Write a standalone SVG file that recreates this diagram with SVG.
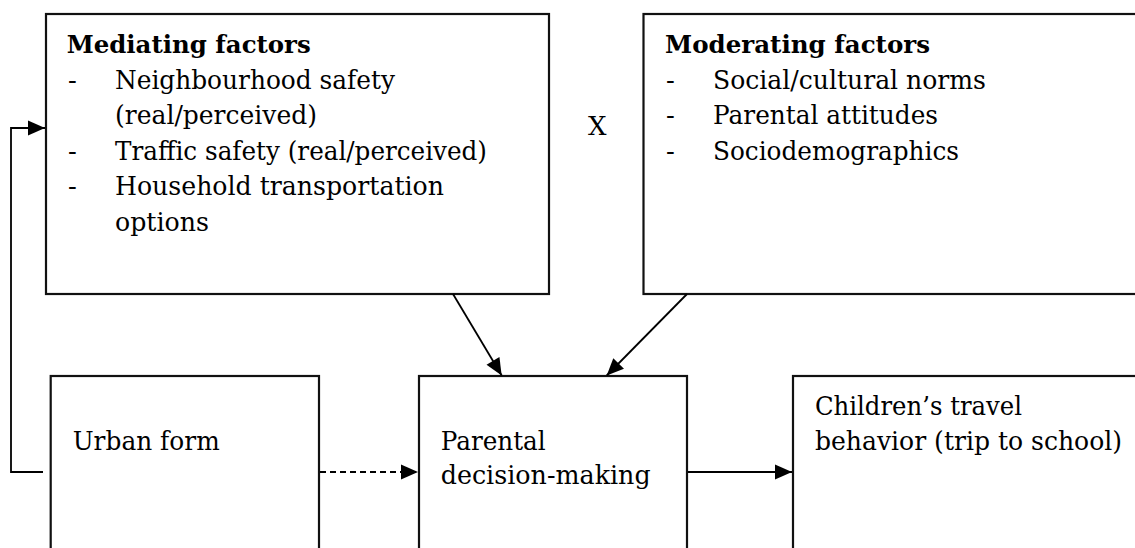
<svg xmlns="http://www.w3.org/2000/svg" width="1135" height="548" viewBox="0 0 1135 548">
<style>
.box{fill:#fff;stroke:#111;stroke-width:2.2}
.t{font-family:"DejaVu Serif","Liberation Serif",serif;font-size:26px;fill:#000}
.b{font-family:"DejaVu Serif","Liberation Serif",serif;font-size:24.5px;font-weight:bold;fill:#000}
.c{fill:none;stroke:#000;stroke-width:1.8}
.d{stroke-dasharray:6 4}
</style>
<defs>
<marker id="ah" markerUnits="userSpaceOnUse" markerWidth="20" markerHeight="18" refX="17" refY="7.5" orient="auto" overflow="visible">
<path d="M0,0 L17,7.5 L0,15 z" fill="#000"/>
</marker>
</defs>
<rect width="1135" height="548" fill="#fff"/>
<g id="mediating">
<rect class="box" x="46" y="14" width="503" height="280"/>
<text class="b" x="66.7" y="53" textLength="244" lengthAdjust="spacingAndGlyphs">Mediating factors</text>
<text class="t" x="68" y="88.5">-</text>
<text class="t" x="115" y="88.5" textLength="280" lengthAdjust="spacingAndGlyphs">Neighbourhood safety</text>
<text class="t" x="115" y="124" textLength="202" lengthAdjust="spacingAndGlyphs">(real/perceived)</text>
<text class="t" x="68" y="159.5">-</text>
<text class="t" x="115" y="159.5" textLength="372" lengthAdjust="spacingAndGlyphs">Traffic safety (real/perceived)</text>
<text class="t" x="68" y="195">-</text>
<text class="t" x="115" y="195" textLength="329" lengthAdjust="spacingAndGlyphs">Household transportation</text>
<text class="t" x="115" y="230.5" textLength="94" lengthAdjust="spacingAndGlyphs">options</text>
</g>
<g id="x-label">
<text class="t" x="588" y="135">X</text>
</g>
<g id="moderating">
<rect class="box" x="643.5" y="14" width="600" height="280"/>
<text class="b" x="665" y="53" textLength="265" lengthAdjust="spacingAndGlyphs">Moderating factors</text>
<text class="t" x="666" y="88.5">-</text>
<text class="t" x="713" y="88.5" textLength="273" lengthAdjust="spacingAndGlyphs">Social/cultural norms</text>
<text class="t" x="666" y="124">-</text>
<text class="t" x="713" y="124" textLength="225" lengthAdjust="spacingAndGlyphs">Parental attitudes</text>
<text class="t" x="666" y="159.5">-</text>
<text class="t" x="713" y="159.5" textLength="246" lengthAdjust="spacingAndGlyphs">Sociodemographics</text>
</g>
<g id="urban">
<rect class="box" x="50.7" y="376" width="268.3" height="200"/>
<text class="t" x="72.7" y="450" textLength="147" lengthAdjust="spacingAndGlyphs">Urban form</text>
</g>
<g id="parental">
<rect class="box" x="419" y="376" width="268" height="200"/>
<text class="t" x="440.7" y="450" textLength="105" lengthAdjust="spacingAndGlyphs">Parental</text>
<text class="t" x="440.7" y="484" textLength="210" lengthAdjust="spacingAndGlyphs">decision-making</text>
</g>
<g id="children">
<rect class="box" x="793" y="376" width="400" height="200"/>
<text class="t" x="815" y="415" textLength="207" lengthAdjust="spacingAndGlyphs">Children’s travel</text>
<text class="t" x="815" y="450" textLength="307" lengthAdjust="spacingAndGlyphs">behavior (trip to school)</text>
</g>
<g id="connectors">
<path class="c" d="M43,472 H11 V128 H45" marker-end="url(#ah)"/>
<path class="c d" d="M320,472 H418" marker-end="url(#ah)"/>
<path class="c" d="M688,472 H792" marker-end="url(#ah)"/>
<path class="c" d="M453,294 L501.7,375.5" marker-end="url(#ah)"/>
<path class="c" d="M687,294 L606.7,375.5" marker-end="url(#ah)"/>
</g>
</svg>
